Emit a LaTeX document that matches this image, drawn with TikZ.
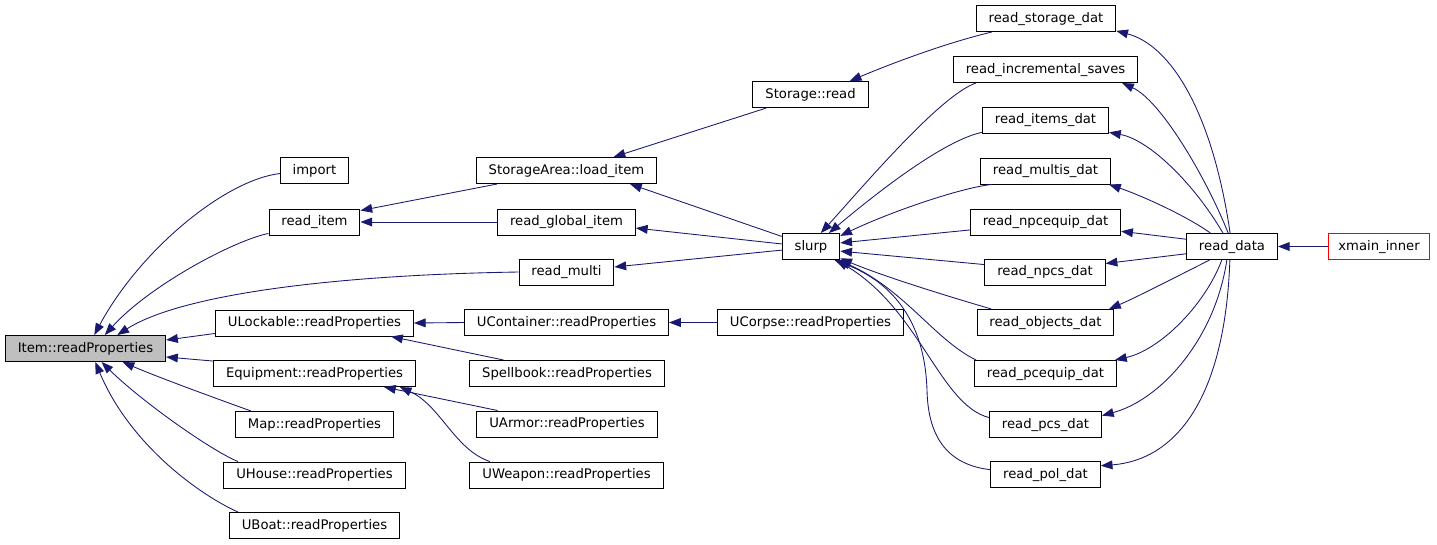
\documentclass[tikz,border=0pt]{standalone}
\usepackage{fontspec}
\setmainfont{DejaVu Sans}
\usetikzlibrary{arrows.meta}
\definecolor{edgeblue}{HTML}{191970}
\definecolor{boxgray}{HTML}{BFBFBF}
\tikzstyle{every node}=[font=\fontsize{9.9}{12}\selectfont]
\tikzstyle{fn}=[draw, line width=0.75pt, inner xsep=9.3pt, inner ysep=0pt, minimum height=19.5pt, text height=7.4pt, text depth=2.1pt]
\tikzstyle{call}=[draw=edgeblue, line width=0.65pt, -{Triangle[length=8.8pt,width=6.6pt]}]

\begin{document}
\begin{tikzpicture}[x=0.75pt,y=-0.75pt]
%Caller graph of Item::readProperties
	\useasboundingbox (0,0) rectangle (1437,544);
	%% column 0 and 1
	\node[fn, fill=boxgray] (item) at (85.5,348.5) {Item::readProperties};
	\node[fn] (import) at (314.5,170.5) {import};
	\node[fn] (ritem) at (314.5,222) {read\_item};
	\node[fn] (ulock) at (314.5,323) {ULockable::readProperties};
	\node[fn] (equip) at (314.5,373.5) {Equipment::readProperties};
	\node[fn] (map) at (314.5,424.5) {Map::readProperties};
	\node[fn] (uhouse) at (314.5,475) {UHouse::readProperties};
	\node[fn] (uboat) at (314.5,525.5) {UBoat::readProperties};
	%% column 2
	\node[fn] (loaditem) at (566.5,170.5) {StorageArea::load\_item};
	\node[fn] (rglobal) at (566.5,222) {read\_global\_item};
	\node[fn] (rmulti) at (566.5,272) {read\_multi};
	\node[fn] (ucont) at (566.5,322.5) {UContainer::readProperties};
	\node[fn] (spell) at (567,373.5) {Spellbook::readProperties};
	\node[fn] (uarmor) at (567,424) {UArmor::readProperties};
	\node[fn] (uweapon) at (566.5,475) {UWeapon::readProperties};
	%% column 3
	\node[fn] (storread) at (810.5,94.5) {Storage::read};
	\node[fn] (slurp) at (811,246.5) {slurp};
	\node[fn] (ucorpse) at (810.5,322.5) {UCorpse::readProperties};
	%% column 4, the data files
	\node[fn] (rstorage) at (1046,18.5) {read\_storage\_dat};
	\node[fn] (rincr) at (1045.5,69.5) {read\_incremental\_saves};
	\node[fn] (ritems) at (1045.5,120) {read\_items\_dat};
	\node[fn] (rmultis) at (1045.5,171) {read\_multis\_dat};
	\node[fn] (rnpceq) at (1045.5,222) {read\_npcequip\_dat};
	\node[fn] (rnpcs) at (1045,272) {read\_npcs\_dat};
	\node[fn] (robjects) at (1045.5,322.5) {read\_objects\_dat};
	\node[fn] (rpceq) at (1045.5,373.5) {read\_pcequip\_dat};
	\node[fn] (rpcs) at (1045.5,424.5) {read\_pcs\_dat};
	\node[fn] (rpol) at (1045.5,474.5) {read\_pol\_dat};
	%% column 5 and 6
	\node[fn] (rdata) at (1232,246.5) {read\_data};
	\node[fn, draw=red, inner xsep=7.4pt] (xmain) at (1379,246.5) {xmain\_inner};
	%CALLS INTO Item::readProperties
	\draw[call] (import.185) .. controls (225,180) and (140,250) .. (item.57);
	\draw[call] (ritem.194) .. controls (235,240) and (150,285) .. (item.35);
	\draw[call] (rmulti.west) .. controls (330,275) and (180,295) .. (item.23);
	\draw[call] (ulock.186) -- (item.6);
	\draw[call] (equip.173.5) -- (item.-6.7);
	\draw[call] (map.168) .. controls (215,398) and (160,378) .. (item.-20);
	\draw[call] (uhouse.170) .. controls (210,450) and (140,400) .. (item.-40);
	\draw[call] (uboat.170) .. controls (200,495) and (130,445) .. (item.-54);
	%second level
	\draw[call] (loaditem.191.5) -- (ritem.14);
	\draw[call] (rglobal.west) -- (ritem.east);
	\draw[call] (ucont.west) -- (ulock.east);
	\draw[call] (spell.168.6) -- (ulock.-10.7);
	\draw[call] (uarmor.169.3) -- (equip.-11);
	\draw[call] (uweapon.170.4) .. controls (455,450) and (440,405) .. (equip.-9.5);
	\draw[call] (ucorpse.west) -- (ucont.east);
	\draw[call] (storread.197) -- (loaditem.16.5);
	\draw[call] (slurp.161) -- (loaditem.-12.4);
	\draw[call] (slurp.175) -- (rglobal.-5.75);
	\draw[call] (slurp.187) -- (rmulti.6);
	\draw[call] (rstorage.194) .. controls (950,42) and (900,60) .. (storread.19);
	%% data files into slurp
	\draw[call] (rincr.191) .. controls (940,95) and (860,190) .. (slurp.54);
	\draw[call] (ritems.191) .. controls (945,140) and (880,190) .. (slurp.37);
	\draw[call] (rmultis.194) .. controls (960,188) and (890,212) .. (slurp.20.6);
	\draw[call] (rnpceq.186) -- (slurp.7);
	\draw[call] (rnpcs.173) -- (slurp.-9);
	\draw[call] (robjects.166) .. controls (940,294) and (880,275) .. (slurp.-22);
	\draw[call] (rpceq.169) .. controls (935,340) and (905,290) .. (slurp.-26);
	\draw[call] (rpcs.173) .. controls (940,405) and (920,310) .. (slurp.-28);
	\draw[call] (rpol.175) .. controls (950,465) and (928,440) .. (927,390) .. controls (925,330) and (900,285) .. (slurp.-30);
	%% read_data into the data files
	\draw[call] (rdata.98) .. controls (1212,110) and (1170,45) .. (rstorage.-10);
	\draw[call] (rdata.106) .. controls (1205,175) and (1160,100) .. (rincr.-10);
	\draw[call] (rdata.124) .. controls (1195,185) and (1150,140) .. (ritems.-11.7);
	\draw[call] (rdata.148.5) .. controls (1185,215) and (1140,195) .. (rmultis.-12.1);
	\draw[call] (rdata.171.8) -- (rnpceq.-7.5);
	\draw[call] (rdata.189.5) -- (rnpcs.8.5);
	\draw[call] (rdata.211.5) .. controls (1180,275) and (1135,298) .. (robjects.12.2);
	\draw[call] (rdata.233.5) .. controls (1205,305) and (1160,350) .. (rpceq.11.3);
	\draw[call] (rdata.249.7) .. controls (1215,340) and (1160,400) .. (rpcs.9.7);
	\draw[call] (rdata.261.6) .. controls (1225,400) and (1175,460) .. (rpol.9.9);
	\draw[call] (xmain.west) -- (rdata.east);
\end{tikzpicture}
\end{document}
